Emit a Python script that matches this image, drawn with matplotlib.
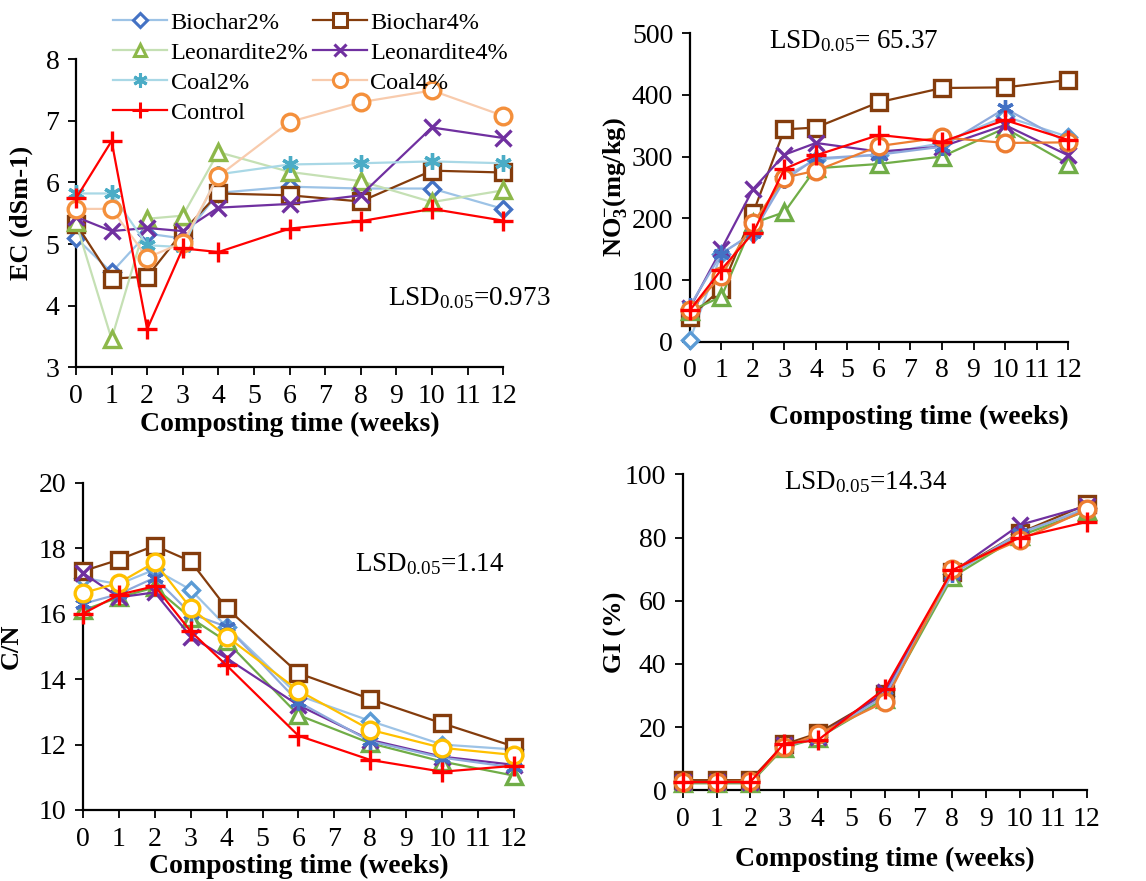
import matplotlib.pyplot as plt
from matplotlib.lines import Line2D

plt.rcParams['font.family'] = ['Liberation Serif', 'DejaVu Serif']
plt.rcParams['mathtext.fontset'] = 'custom'
plt.rcParams['mathtext.rm'] = 'Liberation Serif'
plt.rcParams['mathtext.it'] = 'Liberation Serif:italic'
plt.rcParams['mathtext.bf'] = 'Liberation Serif:bold'

weeks = [0, 1, 2, 3, 4, 6, 8, 10, 12]
treatments = ['Biochar2%', 'Biochar4%', 'Leonardite2%', 'Leonardite4%',
              'Coal2%', 'Coal4%', 'Control']

# EC (dS m-1)
ec_b2 = [5.10, 4.54, 5.17, 5.09, 5.83, 5.93, 5.90, 5.90, 5.57]
ec_b4 = [5.33, 4.44, 4.47, 5.20, 5.82, 5.79, 5.69, 6.19, 6.16]
ec_l2 = [5.35, 3.46, 5.41, 5.46, 6.49, 6.17, 6.02, 5.68, 5.87]
ec_l4 = [5.44, 5.21, 5.26, 5.21, 5.59, 5.65, 5.79, 6.89, 6.72]
ec_c2 = [5.82, 5.82, 4.98, 4.95, 6.13, 6.29, 6.31, 6.34, 6.31]
ec_c4 = [5.57, 5.57, 4.78, 5.02, 6.10, 6.98, 7.30, 7.49, 7.08]
ec_ctrl = [5.74, 6.67, 3.62, 4.93, 4.87, 5.25, 5.37, 5.57, 5.38]

# NO3- (mg/kg)
no3_b2 = [3, 143, 176, 268, 295, 303, 322, 365, 332]
no3_b4 = [40, 86, 208, 344, 347, 388, 411, 412, 424]
no3_l2 = [50, 73, 192, 210, 281, 288, 300, 346, 288]
no3_l4 = [55, 150, 247, 303, 322, 308, 316, 351, 302]
no3_c2 = [58, 143, 176, 262, 297, 303, 316, 378, 322]
no3_c4 = [51, 107, 192, 266, 277, 317, 331, 322, 323]
no3_ctrl = [51, 117, 176, 280, 302, 335, 324, 359, 327]

# C/N
cn_b2 = [17.1, 16.9, 17.35, 16.73, 15.6, 13.5, 12.72, 12.0, 11.85]
cn_b4 = [17.3, 17.65, 18.08, 17.6, 16.17, 14.18, 13.39, 12.65, 11.94]
cn_l2 = [16.1, 16.5, 16.8, 15.87, 15.15, 12.9, 12.04, 11.48, 11.05]
cn_l4 = [17.24, 16.5, 16.65, 15.3, 14.64, 13.2, 12.14, 11.63, 11.38]
cn_c2 = [16.3, 16.6, 17.1, 16.0, 15.6, 13.3, 12.1, 11.6, 11.3]
cn_c4 = [16.63, 16.94, 17.57, 16.17, 15.3, 13.65, 12.45, 11.9, 11.68]
cn_ctrl = [16.0, 16.58, 16.84, 15.46, 14.42, 12.27, 11.53, 11.17, 11.35]

# GI (%)
gi_b2 = [2.8, 2.8, 2.8, 14.0, 16.8, 30.0, 68.5, 81.0, 89.5]
gi_b4 = [3.2, 3.2, 3.2, 14.5, 18.0, 30.5, 69.0, 81.5, 90.5]
gi_l2 = [2.2, 2.2, 2.2, 13.5, 16.5, 29.0, 67.5, 80.5, 88.5]
gi_l4 = [2.6, 2.6, 2.6, 14.2, 17.0, 31.0, 69.0, 84.0, 90.0]
gi_c2 = [2.6, 2.6, 2.6, 14.0, 16.5, 30.0, 68.5, 81.5, 89.0]
gi_c4 = [2.6, 2.6, 2.8, 13.7, 17.7, 28.0, 70.0, 79.2, 88.9]
gi_ctrl = [2.6, 2.6, 2.6, 14.8, 15.8, 32.2, 69.7, 80.0, 85.0]

markers = {'Biochar2%': 'D', 'Biochar4%': 's', 'Leonardite2%': '^',
           'Leonardite4%': 'x', 'Coal2%': (6, 2, 0), 'Coal4%': 'o',
           'Control': '+'}
msizes = {'Biochar2%': 8, 'Biochar4%': 12, 'Leonardite2%': 11,
          'Leonardite4%': 11, 'Coal2%': 12, 'Coal4%': 12, 'Control': 14}

# (line colour, marker colour) per panel
ec_colors = {'Biochar2%': ('#9DC3E6', '#4472C4'), 'Biochar4%': ('#843C0C', '#843C0C'),
             'Leonardite2%': ('#C5E0B4', '#8DB84A'), 'Leonardite4%': ('#7030A0', '#7030A0'),
             'Coal2%': ('#A9D8E6', '#4BACC6'), 'Coal4%': ('#F8CBAD', '#F4903C'),
             'Control': ('#FF0000', '#FF0000')}
no3_colors = {'Biochar2%': ('#9DC3E6', '#5B9BD5'), 'Biochar4%': ('#843C0C', '#843C0C'),
              'Leonardite2%': ('#70AD47', '#70AD47'), 'Leonardite4%': ('#7030A0', '#7030A0'),
              'Coal2%': ('#8FAADC', '#4472C4'), 'Coal4%': ('#ED7D31', '#ED7D31'),
              'Control': ('#FF0000', '#FF0000')}
cn_colors = dict(no3_colors)
cn_colors['Coal4%'] = ('#FFC000', '#FFC000')

fig = plt.figure(figsize=(11.46, 8.81), dpi=100)


def draw_panel(rect, series, colors, ylim, yticks, ylabel, ylabel_x,
               xlabel_xy, lsd, lsd_xy, lw=1.6):
    ax = fig.add_axes(rect)
    for name, vals in zip(treatments, series):
        lc, mc = colors[name]
        filled = name in ('Leonardite4%', 'Coal2%', 'Control')
        ax.plot(weeks, vals, color=lc, lw=lw, marker=markers[name],
                ms=msizes[name], mec=mc, mfc=mc if filled else 'white',
                mew=2.4, clip_on=False, zorder=3)
    ax.set_xlim(0, 12)
    ax.set_ylim(*ylim)
    ax.set_xticks(range(13))
    ax.set_yticks(yticks)
    ax.tick_params(labelsize=20, direction='out', length=6, width=1.3, pad=6)
    for s in ('top', 'right'):
        ax.spines[s].set_visible(False)
    for s in ('left', 'bottom'):
        ax.spines[s].set_linewidth(1.6)
    ax.set_ylabel(ylabel, fontsize=19, fontweight='bold')
    ax.yaxis.set_label_coords(ylabel_x, 0.5)
    ax.set_xlabel('Composting time (weeks)', fontsize=20, fontweight='bold')
    ax.xaxis.set_label_coords(*xlabel_xy)
    ax.text(lsd_xy[0], lsd_xy[1], lsd, transform=ax.transAxes, fontsize=19.5,
            va='center', ha='left')
    return ax


ax1 = draw_panel([0.0663, 0.583, 0.3727, 0.350],
                 [ec_b2, ec_b4, ec_l2, ec_l4, ec_c2, ec_c4, ec_ctrl], ec_colors,
                 (3, 8), range(3, 9), 'EC (dSm-1)', -0.10, (0.5, -0.145),
                 r'LSD$_{0.05}$=0.973', (0.73, 0.224))

ax2 = draw_panel([0.602, 0.612, 0.330, 0.3505],
                 [no3_b2, no3_b4, no3_l2, no3_l4, no3_c2, no3_c4, no3_ctrl], no3_colors,
                 (0, 500), range(0, 501, 100), r'NO$_\mathbf{3}^{\mathbf{-}}$(mg/kg)',
                 -0.16, (0.605, -0.205), r'LSD$_{0.05}$= 65.37', (0.21, 0.975))

ax3 = draw_panel([0.0724, 0.0806, 0.3761, 0.3714],
                 [cn_b2, cn_b4, cn_l2, cn_l4, cn_c2, cn_c4, cn_ctrl], cn_colors,
                 (10, 20), range(10, 21, 2), 'C/N', -0.139, (0.5, -0.135),
                 r'LSD$_{0.05}$=1.14', (0.63, 0.75))

ax4 = draw_panel([0.596, 0.103, 0.3525, 0.3585],
                 [gi_b2, gi_b4, gi_l2, gi_l4, gi_c2, gi_c4, gi_ctrl], no3_colors,
                 (0, 100), range(0, 101, 20), 'GI (%)', -0.138, (0.5, -0.18),
                 r'LSD$_{0.05}$=14.34', (0.25, 0.975))

# legend (two columns, row order as in the original)
handles = {}
for name in treatments:
    lc, mc = ec_colors[name]
    filled = name in ('Leonardite4%', 'Coal2%', 'Control')
    handles[name] = Line2D([], [], color=lc, lw=1.6, marker=markers[name],
                           ms=msizes[name] * 0.85, mec=mc,
                           mfc=mc if filled else 'white', mew=2.2)
order = ['Biochar2%', 'Leonardite2%', 'Coal2%', 'Control',
         'Biochar4%', 'Leonardite4%', 'Coal4%']
fig.legend([handles[n] for n in order], order, ncol=2, frameon=False,
           fontsize=17.5, loc='upper left', bbox_to_anchor=(0.082, 1.009),
           handlelength=2.2, columnspacing=0.2, labelspacing=0.33,
           handletextpad=0.15, borderpad=0.3)

plt.savefig('out.png', dpi=100)
